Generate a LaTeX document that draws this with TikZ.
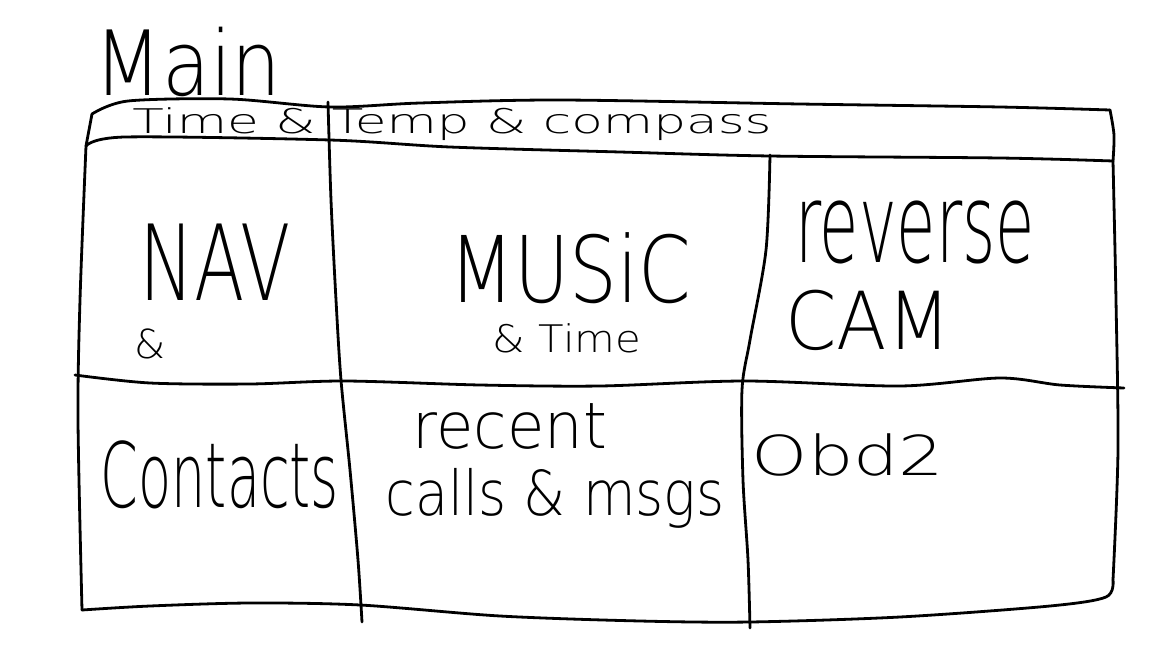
\documentclass[tikz,border=0pt]{standalone}
\usepackage{fontspec}
\setmainfont{DejaVu Sans ExtraLight}
\begin{document}
\begin{tikzpicture}[x=1pt,y=-1pt,
  pen/.style={line width=2.8pt,line cap=round,line join=round},
  label/.style={inner sep=0pt,anchor=center}]
\useasboundingbox (0,0) rectangle (1152,648);
\fill[white] (0,0) rectangle (1152,648);

% header strip
\draw[pen] plot[smooth] coordinates {(92,114) (128,101) (230,99) (330,107) (420,103) (560,100) (800,104) (1000,107) (1110,110)};
\draw[pen] plot[smooth] coordinates {(1110,110) (1114,135) (1113,161)};
\draw[pen] (92,114) -- (86,146);
\draw[pen] plot[smooth] coordinates {(86,146) (125,137) (330,140) (450,147) (620,152) (770,156) (1000,158) (1113,161)};

% outer frame
\draw[pen] plot[smooth] coordinates {(86,146) (80,300) (78,420) (82,610)};
\draw[pen] plot[smooth] coordinates {(82,610) (150,606) (250,603) (360,605) (500,616) (640,621) (750,622) (900,617) (1050,606) (1106,597) (1113,580)};
\draw[pen] plot[smooth] coordinates {(1113,161) (1116,300) (1118,450) (1113,580)};

% middle row line
\draw[pen] plot[smooth] coordinates {(75,375) (150,383) (250,384) (345,381) (480,385) (600,386) (745,381) (900,386) (1000,378) (1060,385) (1124,388)};

% column dividers
\draw[pen] plot[smooth] coordinates {(328,102) (331,200) (336,300) (341,380) (350,470) (358,560) (362,622)};
\draw[pen] plot[smooth] coordinates {(770,155) (766,250) (750,340) (742,390) (743,480) (748,560) (750,628)};

% texts
\node[label] (title) at (188,62) {\fontsize{90}{90}\selectfont\scalebox{0.87}[1]{Main}};
\node[label] (header) at (452,124) {\fontsize{34}{34}\selectfont\scalebox{1.52}[1]{Time \& Temp \& compass}};
\node[label] (nav) at (215,262) {\fontsize{105}{105}\selectfont\scalebox{0.7}[1]{NAV}};
\node[label] (navamp) at (150,344) {\fontsize{40}{40}\selectfont \&};
\node[label] (music) at (570,268) {\fontsize{92}{92}\selectfont\scalebox{0.82}[1]{MUSiC}};
\node[label] (musictime) at (567,338) {\fontsize{38}{38}\selectfont\scalebox{1.1}[1]{\& Time}};
\node[label] (reverse) at (915,232) {\fontsize{110}{110}\selectfont\scalebox{0.58}[1]{reverse}};
\node[label] (cam) at (868,320) {\fontsize{80}{80}\selectfont\scalebox{0.92}[1]{CAM}};
\node[label] (contacts) at (220,475) {\fontsize{90}{90}\selectfont\scalebox{0.6}[1]{Contacts}};
\node[label] (recent) at (510,426) {\fontsize{64}{64}\selectfont\scalebox{0.95}[1]{recent}};
\node[label] (calls) at (555,498) {\fontsize{62}{62}\selectfont\scalebox{0.87}[1]{calls \& msgs}};
\node[label] (obd) at (848,455) {\fontsize{55}{55}\selectfont\scalebox{1.3}[1]{Obd2}};
\end{tikzpicture}
\end{document}
